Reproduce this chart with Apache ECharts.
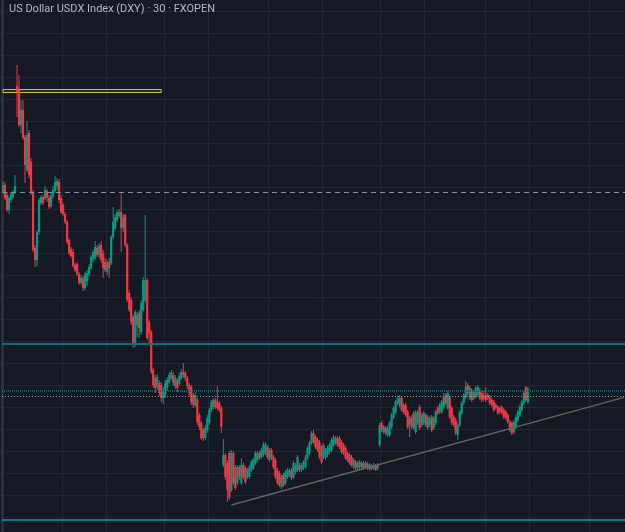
<!DOCTYPE html>
<html lang="en">
<head>
<meta charset="utf-8">
<title>US Dollar USDX Index (DXY) · 30 · FXOPEN</title>
<script src="https://cdn.jsdelivr.net/npm/echarts@6/dist/echarts.min.js"></script>
<style>
    html, body { margin: 0; padding: 0; background: #151924; }
    #main { width: 625px; height: 532px; }
</style>
</head>
<body>
<div id="main"></div>
<script>
// 30 min bars, [open, close, low, high]
var candles = [
    [108.08,108.15,108.07,108.19],[108.15,108.02,108.00,108.18],[108.05,107.90,107.88,108.08],[107.90,108.02,107.86,108.04],
    [108.00,108.06,107.97,108.08],[108.03,108.08,108.01,108.10],[108.07,108.14,108.06,108.25],[109.14,109.08,108.83,109.35],
    [109.10,108.75,108.73,109.25],[108.75,108.90,108.67,109.00],[108.90,108.62,108.60,109.00],[108.63,108.35,108.17,108.65],
    [108.30,108.65,108.28,108.79],[108.67,108.25,108.22,108.70],[108.38,108.08,108.05,108.42],[108.08,107.50,107.48,108.10],
    [107.52,107.40,107.33,107.55],[107.40,107.68,107.34,107.70],[107.68,108.00,107.65,108.02],[107.97,108.03,107.95,108.05],
    [108.03,107.97,107.95,108.05],[108.02,108.10,108.00,108.14],[108.09,108.02,107.98,108.11],[108.02,107.93,107.91,108.05],
    [107.94,108.04,107.92,108.08],[108.04,108.10,108.02,108.14],[108.09,108.18,108.07,108.24],[108.14,108.19,108.10,108.22],
    [108.18,108.00,107.97,108.21],[108.02,107.88,107.86,108.05],[107.95,107.86,107.84,107.97],[107.86,107.78,107.76,107.88],
    [107.78,107.58,107.56,107.80],[107.60,107.47,107.45,107.62],[107.51,107.44,107.42,107.53],[107.48,107.34,107.32,107.51],
    [107.35,107.30,107.28,107.37],[107.36,107.26,107.24,107.38],[107.26,107.17,107.15,107.28],[107.17,107.22,107.15,107.25],
    [107.22,107.12,107.09,107.24],[107.12,107.26,107.10,107.28],[107.19,107.27,107.14,107.30],[107.26,107.33,107.24,107.36],
    [107.32,107.43,107.30,107.45],[107.40,107.48,107.38,107.50],[107.42,107.53,107.40,107.59],[107.52,107.45,107.43,107.55],
    [107.45,107.54,107.42,107.57],[107.55,107.40,107.37,107.59],[107.47,107.32,107.22,107.50],[107.38,107.30,107.28,107.42],
    [107.28,107.37,107.25,107.40],[107.38,107.32,107.22,107.42],[107.37,107.63,107.35,107.65],[107.63,107.78,107.61,107.93],
    [107.72,107.83,107.70,107.86],[107.80,107.88,107.78,107.90],[107.84,107.88,107.82,107.91],[107.88,107.72,107.48,108.07],
    [107.72,107.83,107.68,107.86],[107.85,107.55,107.53,107.86],[107.55,107.00,106.98,107.57],[107.07,106.90,106.88,107.10],
    [107.00,106.78,106.75,107.02],[106.83,106.57,106.52,106.85],[106.55,106.88,106.53,106.90],[106.75,106.85,106.63,106.88],
    [106.87,106.72,106.62,106.90],[106.68,106.97,106.65,107.00],[106.90,107.20,106.88,107.23],[107.00,107.20,106.98,107.85],
    [107.20,106.62,106.60,107.22],[106.78,106.67,106.55,106.80],[106.68,106.28,106.26,106.70],[106.30,106.15,106.12,106.32],
    [106.22,106.12,106.07,106.25],[106.13,106.23,106.10,106.26],[106.17,106.07,106.04,106.20],[106.15,106.02,105.98,106.18],
    [106.02,106.10,105.96,106.13],[106.05,106.17,106.02,106.20],[106.12,106.20,106.09,106.23],[106.18,106.25,106.16,106.28],
    [106.22,106.27,106.20,106.30],[106.25,106.17,106.14,106.28],[106.14,106.22,106.11,106.25],[106.20,106.12,106.08,106.22],
    [106.16,106.24,106.14,106.27],[106.22,106.28,106.20,106.31],[106.28,106.25,106.22,106.37],[106.27,106.22,106.19,106.29],
    [106.22,106.14,106.11,106.24],[106.15,106.07,106.04,106.17],[106.13,105.98,105.95,106.15],[106.05,105.95,105.92,106.07],
    [105.95,106.05,105.93,106.08],[106.00,105.78,105.75,106.02],[105.85,105.73,105.70,105.87],[105.77,105.62,105.60,105.79],
    [105.70,105.62,105.59,105.72],[105.62,105.72,105.60,105.75],[105.70,105.82,105.67,105.85],[105.77,105.90,105.75,105.92],
    [105.90,105.98,105.88,106.00],[105.93,106.00,105.91,106.02],[106.00,105.93,105.91,106.02],[105.98,105.92,105.90,106.14],
    [105.97,105.90,105.88,105.99],[105.92,105.73,105.67,105.94],[105.35,105.45,105.33,105.61],[105.45,105.23,105.20,105.47],
    [105.37,105.10,104.98,105.40],[105.47,105.02,105.00,105.49],[105.10,105.47,105.08,105.50],[105.47,105.17,105.15,105.49],
    [105.33,105.12,105.10,105.35],[105.17,105.33,105.15,105.35],[105.33,105.23,105.20,105.35],[105.17,105.35,105.15,105.42],
    [105.35,105.23,105.21,105.37],[105.32,105.18,105.16,105.34],[105.23,105.30,105.21,105.32],[105.23,105.33,105.21,105.35],
    [105.30,105.38,105.28,105.40],[105.32,105.40,105.30,105.42],[105.37,105.47,105.35,105.49],[105.40,105.47,105.38,105.49],
    [105.47,105.42,105.40,105.49],[105.43,105.50,105.41,105.52],[105.45,105.55,105.43,105.58],[105.47,105.56,105.45,105.58],
    [105.53,105.43,105.41,105.55],[105.40,105.50,105.38,105.52],[105.50,105.42,105.40,105.52],[105.43,105.33,105.31,105.45],
    [105.40,105.23,105.21,105.42],[105.30,105.17,105.15,105.32],[105.27,105.15,105.13,105.29],[105.13,105.23,105.11,105.25],
    [105.25,105.15,105.13,105.27],[105.17,105.28,105.15,105.30],[105.23,105.30,105.21,105.32],[105.25,105.30,105.23,105.32],
    [105.30,105.22,105.20,105.32],[105.23,105.37,105.21,105.39],[105.28,105.35,105.26,105.37],[105.30,105.43,105.28,105.45],
    [105.35,105.30,105.28,105.37],[105.30,105.35,105.28,105.37],[105.32,105.38,105.30,105.40],[105.33,105.43,105.31,105.45],
    [105.42,105.52,105.40,105.54],[105.47,105.57,105.45,105.59],[105.57,105.67,105.55,105.69],[105.67,105.58,105.56,105.70],
    [105.63,105.53,105.51,105.65],[105.60,105.50,105.48,105.62],[105.58,105.43,105.41,105.60],[105.53,105.38,105.36,105.55],
    [105.43,105.55,105.41,105.57],[105.42,105.50,105.40,105.52],[105.45,105.52,105.43,105.54],[105.48,105.55,105.46,105.57],
    [105.50,105.60,105.48,105.62],[105.55,105.63,105.53,105.65],[105.57,105.62,105.55,105.64],[105.62,105.55,105.53,105.64],
    [105.62,105.53,105.51,105.64],[105.58,105.48,105.46,105.60],[105.55,105.47,105.45,105.57],[105.52,105.42,105.40,105.54],
    [105.47,105.40,105.38,105.49],[105.45,105.37,105.35,105.47],[105.43,105.35,105.33,105.45],[105.33,105.40,105.31,105.42],
    [105.38,105.32,105.30,105.40],[105.32,105.37,105.30,105.39],[105.33,105.38,105.31,105.40],[105.37,105.33,105.31,105.39],
    [105.32,105.37,105.30,105.39],[105.37,105.33,105.31,105.39],[105.32,105.36,105.30,105.38],[105.35,105.31,105.29,105.37],
    [105.31,105.34,105.30,105.36],[105.35,105.32,105.30,105.37],[105.30,105.34,105.29,105.36],[105.35,105.32,105.30,105.37],
    [105.55,105.75,105.53,105.77],[105.77,105.70,105.68,105.79],[105.68,105.73,105.66,105.75],[105.72,105.67,105.65,105.74],
    [105.65,105.72,105.63,105.74],[105.65,105.77,105.63,105.79],[105.73,105.85,105.71,105.87],[105.83,105.92,105.81,105.94],
    [105.88,105.98,105.86,106.00],[105.97,106.02,105.95,106.04],[105.95,106.02,105.93,106.05],[106.02,105.90,105.88,106.04],
    [105.95,105.88,105.86,105.97],[105.95,105.85,105.83,105.97],[105.88,105.73,105.71,105.90],[105.82,105.75,105.63,105.84],
    [105.73,105.83,105.71,105.85],[105.87,105.72,105.70,105.89],[105.68,105.88,105.66,105.90],[105.77,105.88,105.75,105.90],
    [105.93,105.72,105.70,105.95],[105.75,105.85,105.73,105.87],[105.77,105.87,105.75,105.89],[105.85,105.75,105.73,105.87],
    [105.72,105.83,105.70,105.85],[105.75,105.82,105.73,105.84],[105.83,105.70,105.68,105.85],[105.72,105.82,105.70,105.84],
    [105.77,105.88,105.75,105.90],[105.92,105.87,105.85,105.94],[105.88,105.95,105.86,105.97],[105.88,105.98,105.86,106.00],
    [105.93,106.03,105.91,106.07],[106.05,105.97,105.95,106.07],[105.92,106.07,105.90,106.09],[106.03,105.83,105.81,106.05],
    [105.92,105.77,105.75,105.94],[105.83,105.75,105.73,105.85],[105.80,105.67,105.65,105.82],[105.65,105.75,105.60,105.77],
    [105.75,105.88,105.73,105.90],[105.87,105.97,105.85,105.99],[105.97,106.05,105.95,106.07],[106.03,106.13,106.01,106.19],
    [106.15,106.07,106.05,106.17],[106.02,106.12,106.00,106.14],[106.10,106.00,105.98,106.12],[106.02,106.08,106.00,106.10],
    [106.03,106.12,106.01,106.14],[106.05,106.13,106.03,106.15],[106.10,106.02,106.00,106.12],[106.07,106.00,105.98,106.09],
    [106.05,106.01,105.99,106.09],[106.05,106.00,105.98,106.13],[106.05,106.02,106.00,106.07],[106.03,105.97,105.95,106.05],
    [106.00,105.95,105.93,106.02],[105.98,105.90,105.88,106.00],[105.95,105.92,105.90,105.97],[105.93,105.87,105.85,105.95],
    [105.92,105.88,105.86,105.94],[105.93,105.87,105.85,105.95],[105.90,105.83,105.81,105.92],[105.88,105.82,105.80,105.90],
    [105.85,105.78,105.76,105.87],[105.78,105.70,105.68,105.80],[105.77,105.67,105.65,105.79],[105.68,105.78,105.66,105.80],
    [105.73,105.83,105.71,105.85],[105.80,105.88,105.78,105.90],[105.85,105.93,105.83,105.95],[105.90,105.98,105.88,106.00],
    [105.97,106.07,105.95,106.09],[106.13,106.00,105.98,106.14],[105.98,106.11,105.96,106.13]
];

// drawn levels
var boxTop = 109.105, boxBottom = 109.075, boxEnd = 79;
var dashedLevel = 108.08;
var tealLevel = 106.555;
var tealDotLevel = 106.09;
var greyDotLevel = 106.037;
var bottomLevel = 104.80;
var trendStart = [114, 104.95], trendEnd = [310, 106.026];
var dayLines = [30, 52, 81, 103, 133, 160, 189, 211, 241, 263, 293];
var priceMin = 104.68, priceMax = 110.00;

var slots = 311;
var categories = [];
var t0 = Date.UTC(2025, 0, 9, 0, 0);
function pad(n) { return (n < 10 ? '0' : '') + n; }
for (var i = 0; i < slots; i++) {
    var d = new Date(t0 + i * 30 * 60000);
    categories.push(pad(d.getUTCMonth() + 1) + '-' + pad(d.getUTCDate()) + ' ' + pad(d.getUTCHours()) + ':' + pad(d.getUTCMinutes()));
}

var upColor = '#089981', downColor = '#f23645', gridColor = '#232733';

// [index, open, close, low, high]
var barData = candles.map(function (c, k) { return [k, c[0], c[1], c[2], c[3]]; });

function renderCandle(params, api) {
    var k = api.value(0);
    var o = api.coord([k, api.value(1)]);
    var c = api.coord([k, api.value(2)]);
    var lo = api.coord([k, api.value(3)]);
    var hi = api.coord([k, api.value(4)]);
    var w = api.size([1, 0])[0] * 1.1;
    var col = api.value(2) >= api.value(1) ? upColor : downColor;
    var top = Math.min(o[1], c[1]);
    var h = Math.max(1, Math.abs(o[1] - c[1]));
    return {
        type: 'group',
        children: [
            { type: 'line', shape: { x1: o[0], y1: hi[1], x2: o[0], y2: lo[1] }, style: { stroke: col, lineWidth: 1 } },
            { type: 'rect', shape: { x: o[0] - w / 2, y: top, width: w, height: h }, style: { fill: col } }
        ]
    };
}

var myChart = echarts.init(document.getElementById('main'));
var option = {
    animation: false,
    backgroundColor: '#151924',
    title: {
        text: 'US Dollar USDX Index (DXY) · 30 · FXOPEN',
        left: 9, top: 4, padding: 0,
        textStyle: { color: '#b2b5be', fontSize: 11, fontWeight: 'normal', fontFamily: 'Roboto' }
    },
    grid: [
        { left: 2, right: 0, top: 0, bottom: 0 },
        // only carries the horizontal price grid
        { left: 0, right: 0, top: 11, bottom: 15 }
    ],
    xAxis: [{
        type: 'category',
        data: categories,
        boundaryGap: true,
        axisLine: { show: false },
        axisTick: { show: false },
        axisLabel: { show: false },
        splitLine: {
            show: true,
            interval: function (index) { return dayLines.indexOf(index) >= 0; },
            lineStyle: { color: gridColor, width: 1 }
        }
    }, {
        gridIndex: 1, type: 'value', min: 0, max: 1,
        axisLine: { show: false }, axisTick: { show: false }, axisLabel: { show: false }, splitLine: { show: false }
    }],
    yAxis: [{
        type: 'value',
        min: priceMin, max: priceMax,
        axisLine: { show: true, onZero: false, lineStyle: { color: '#2a2e39', width: 3 } },
        axisTick: { show: false },
        axisLabel: { show: false },
        splitLine: { show: false }
    }, {
        gridIndex: 1, type: 'value', min: 0, max: 23, interval: 1,
        axisLine: { show: false },
        axisTick: { show: false },
        axisLabel: { show: false },
        splitLine: { show: true, lineStyle: { color: gridColor, width: 1 } }
    }],
    series: [{
        type: 'custom',
        renderItem: renderCandle,
        data: barData,
        encode: { x: 0, y: [1, 2, 3, 4] },
        clip: true,
        silent: true
    }, {
        // carries the drawn levels and the trend line
        type: 'line',
        data: [],
        silent: true,
        markArea: {
            silent: true,
            itemStyle: { color: 'rgba(200,185,70,0.12)', borderColor: '#cdbd45', borderWidth: 1 },
            data: [[{ xAxis: categories[0], yAxis: boxTop }, { xAxis: categories[boxEnd], yAxis: boxBottom }]]
        },
        markLine: {
            silent: true,
            symbol: 'none',
            label: { show: false },
            data: [
                { yAxis: dashedLevel, lineStyle: { color: '#8b8e95', width: 1, type: [5, 4] } },
                { yAxis: tealLevel, lineStyle: { color: '#1a6b77', width: 2, type: 'solid' } },
                { yAxis: tealDotLevel, lineStyle: { color: '#1b5a60', width: 2, type: [1, 1] } },
                { yAxis: greyDotLevel, lineStyle: { color: '#9a9c98', width: 1, type: [1, 2] } },
                { yAxis: bottomLevel, lineStyle: { color: '#0d98a8', width: 1.5, type: 'solid' } },
                [
                    { coord: [categories[trendStart[0]], trendStart[1]], lineStyle: { color: '#5d6757', width: 1.5, type: 'solid' } },
                    { coord: [categories[trendEnd[0]], trendEnd[1]] }
                ]
            ]
        }
    }]
};
myChart.setOption(option);
</script>
</body>
</html>
